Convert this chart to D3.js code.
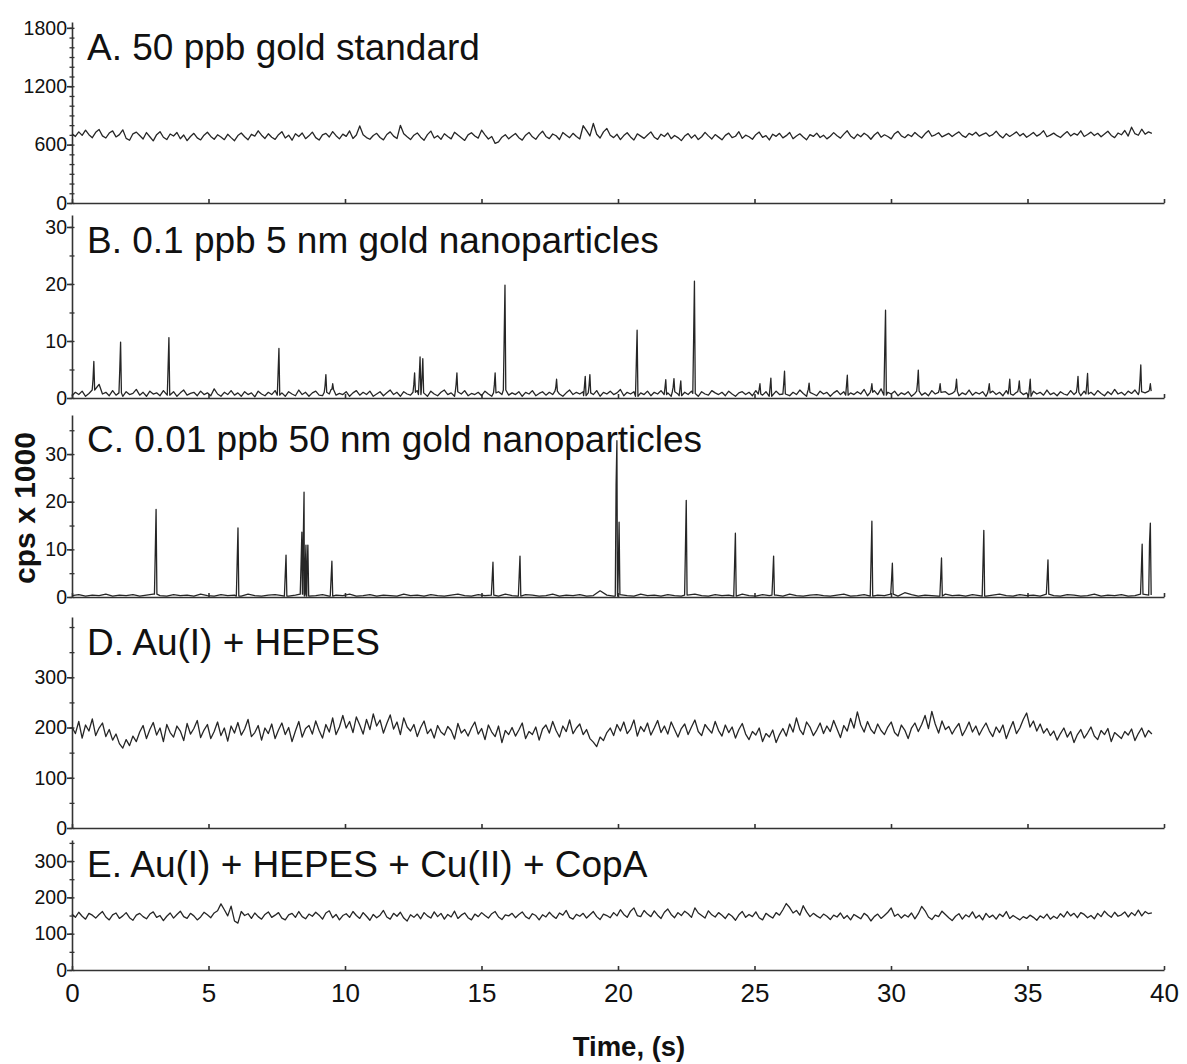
<!DOCTYPE html>
<html>
<head>
<meta charset="utf-8">
<script src="https://cdn.jsdelivr.net/npm/d3@7"></script>
<style>
  body { margin: 0; background: #fff; }
  .chart text { font-family: "Liberation Sans", Arial, Helvetica, sans-serif; }
</style>
</head>
<body>
<div class="chart"></div>
<script>
// ---- data ----
var panelTitles = [
    "A. 50 ppb gold standard",
    "B. 0.1 ppb 5 nm gold nanoparticles",
    "C. 0.01 ppb 50 nm gold nanoparticles",
    "D. Au(I) + HEPES",
    "E. Au(I) + HEPES + Cu(II) + CopA"
];

// y domain tops and tick labels
var yMaxValues = [1860, 32.1, 38.2, 420, 358];
var yMajorTicks = [[0, 600, 1200, 1800], [0, 10, 20, 30], [0, 10, 20, 30], [0, 100, 200, 300], [0, 100, 200, 300]];
var yMinorStep = [100, 5, 5, 50, 50];
var xTicks = [0, 5, 10, 15, 20, 25, 30, 35, 40];

// sampling interval of the traces (s)
var sampleStep = 0.124;
var cSampleStep = 0.248;

// A. gold standard, cps
var aValues = [
    712,684,731,695,748,702,671,726,755,690,
    668,719,741,679,703,752,664,645,711,728,
    693,657,724,681,639,702,733,676,652,709,
    688,725,660,699,641,683,716,669,648,697,
    727,684,655,701,679,651,706,672,640,693,
    719,681,650,706,688,742,697,663,711,676,
    654,702,733,668,697,645,712,683,719,661,
    690,728,672,647,701,716,678,734,692,659,
    708,685,741,663,698,792,701,672,655,694,
    716,673,649,704,731,687,662,798,711,680,
    652,697,720,676,645,703,739,668,691,654,
    712,684,659,727,698,671,643,700,722,689,
    667,748,701,658,683,613,629,676,702,659,
    688,714,671,646,697,725,680,655,703,738,
    684,662,709,691,652,724,697,671,716,683,
    658,794,743,689,817,706,668,731,765,697,
    672,706,651,693,722,679,648,711,687,664,
    699,731,676,654,707,683,719,661,694,672,
    641,688,713,667,700,652,681,726,690,658,
    703,677,649,695,718,671,686,733,664,697,
    681,655,702,729,674,693,648,707,685,716,
    669,692,724,660,689,711,678,650,703,684,
    718,673,697,659,686,723,691,667,708,742,
    689,662,706,681,717,694,655,699,728,676,
    701,683,659,712,736,689,671,704,683,725,
    694,668,711,743,686,701,722,679,697,715,
    683,709,731,692,674,716,698,727,688,705,
    721,686,703,738,695,669,712,684,706,731,
    690,714,676,699,725,687,708,742,681,697,
    718,692,673,706,734,689,715,698,742,683,
    704,728,693,716,681,709,737,694,672,719,
    701,745,688,779,712,696,758,707,731,716
];

// B. 5 nm particles, baseline (cps x 1000)
var bBaseValues = [
    0.4,1.0,0.6,1.2,0.3,0.8,1.4,0.6,2.4,0.7,
    1.0,0.4,1.3,0.5,0.9,0.3,1.1,0.6,0.8,1.5,
    0.5,1.0,0.3,1.2,0.7,0.9,0.4,1.3,0.6,0.5,
    1.1,0.3,0.9,1.4,0.5,0.8,1.0,0.4,1.2,0.6,
    0.9,0.4,1.6,0.7,0.3,1.0,0.6,1.3,0.5,0.9,
    0.3,1.1,0.6,0.9,0.2,1.2,0.7,0.4,1.0,0.6,
    1.3,0.5,0.9,0.3,1.1,0.7,0.4,1.4,0.6,1.0,
    0.3,0.9,1.2,0.5,0.4,1.0,0.7,1.5,0.5,0.8,
    0.6,1.1,0.3,0.9,1.3,0.5,1.0,0.6,1.2,0.3,
    0.7,1.1,0.4,0.9,1.4,0.6,1.0,0.3,1.1,0.7,
    0.5,1.0,1.3,0.6,0.9,0.3,1.2,0.7,0.4,1.0,
    1.4,0.6,0.9,0.3,1.1,0.7,1.3,0.4,0.8,0.6,
    1.0,0.4,1.2,0.7,0.3,0.9,1.1,0.6,1.4,0.5,
    0.9,0.6,1.1,0.3,1.0,0.7,1.3,0.4,0.8,1.1,
    0.5,1.0,0.6,1.2,0.7,0.3,0.9,1.4,0.6,1.0,
    0.7,1.1,0.4,0.9,0.6,1.3,0.3,1.0,0.7,1.2,
    0.6,0.9,1.5,0.4,1.0,0.7,1.1,0.3,0.9,0.6,
    1.2,0.4,1.0,0.7,1.3,0.6,0.9,0.3,1.1,0.7,
    0.4,1.0,0.6,1.2,0.8,0.3,1.1,0.7,0.5,1.3,
    0.9,0.6,1.0,0.4,1.2,0.7,0.3,0.9,1.1,0.6,
    1.0,0.4,1.3,0.7,0.5,1.1,0.3,0.9,1.2,0.6,
    0.7,1.1,0.4,1.0,0.6,1.4,0.8,0.3,1.0,0.7,
    0.4,1.2,0.7,1.0,0.3,0.9,1.3,0.6,1.1,0.5,
    0.9,0.6,1.1,0.7,1.5,0.4,1.0,1.3,0.6,1.6,
    0.5,1.0,0.7,1.2,0.4,0.9,0.6,1.1,0.3,0.8,
    1.2,0.5,0.9,0.4,1.3,0.7,1.0,0.3,1.1,0.6,
    0.8,1.2,0.4,0.9,0.6,1.4,0.5,1.0,0.7,1.1,
    0.3,0.9,1.2,0.6,1.0,0.4,1.3,0.7,0.5,1.0,
    1.1,0.6,0.9,0.3,1.2,0.7,1.0,0.5,1.4,0.6,
    0.9,0.4,1.1,0.7,0.5,1.3,0.6,1.0,0.4,1.2,
    0.7,1.0,0.5,1.3,0.8,0.4,1.1,0.6,1.5,0.7,
    1.0,0.5,1.2,0.8,1.4,0.6,1.1,0.9,1.6,1.2
];
var bSpikeTimes = [0.8,1.78,3.55,7.58,9.3,9.55,12.55,12.75,12.85,14.1,15.5,15.86,17.75,18.8,18.97,20.7,21.75,22.05,22.3,22.8,25.2,25.6,26.1,27.0,28.4,29.3,29.8,31.0,31.8,32.4,33.6,34.35,34.7,35.1,36.85,37.2,39.15,39.5];
var bSpikePeaks = [6.4,9.8,10.6,8.7,4.1,2.5,4.4,7.2,6.9,4.4,4.4,19.8,3.3,3.8,4.1,11.9,3.2,3.4,3.0,20.5,2.5,3.5,4.7,2.6,4.0,2.5,15.4,4.9,2.5,3.3,2.5,3.3,3.0,3.3,3.8,4.3,5.8,2.5];
var bSpikeShoulders = [3.3,5.0,5.4,4.5,2.2,1.5,2.3,3.8,3.6,2.4,2.3,10.3,1.8,2.0,2.2,6.0,1.8,1.9,1.7,10.4,1.5,1.9,2.5,1.5,2.2,1.5,8.1,2.6,1.5,1.8,1.5,1.8,1.7,1.8,2.0,2.3,3.1,1.5];

// C. 50 nm particles, baseline (cps x 1000)
var cBaseValues = [
    0.3,0.5,0.2,0.4,0.3,0.6,0.2,0.4,0.3,0.5,
    0.2,0.4,0.6,0.3,0.2,0.5,0.3,0.4,0.2,0.6,
    0.3,0.2,0.5,0.3,0.4,0.2,0.6,0.3,0.2,0.4,
    0.5,0.3,0.2,0.4,0.6,0.2,0.3,0.5,0.2,0.4,
    0.3,0.6,0.2,0.3,0.5,0.2,0.4,0.3,0.2,0.6,
    0.3,0.4,0.2,0.5,0.3,0.2,0.4,0.6,0.3,0.2,
    0.5,0.3,0.4,0.2,0.6,0.3,0.2,0.5,0.4,0.2,
    0.3,0.6,0.2,0.4,0.3,0.5,0.2,0.3,1.3,0.4,
    0.2,0.5,0.3,0.2,0.6,0.3,0.4,0.2,0.5,0.3,
    0.2,0.4,0.6,0.3,0.2,0.5,0.3,0.4,0.2,0.6,
    0.3,0.2,0.5,0.3,0.4,0.2,0.6,0.3,0.2,0.4,
    0.5,0.3,0.2,0.4,0.6,0.2,0.3,0.5,0.2,0.4,
    0.3,0.6,0.2,0.9,0.5,0.2,0.4,0.3,0.2,0.6,
    0.3,0.4,0.2,0.5,0.3,0.2,0.4,0.6,0.3,0.2,
    0.5,0.3,0.4,0.2,0.6,0.3,0.2,0.5,0.4,0.2,
    0.3,0.6,0.2,0.4,0.3,0.5,0.2,0.3,0.6,0.4
];
var cSpikeTimes = [3.08,6.08,7.84,8.42,8.5,8.57,8.64,9.52,15.42,16.41,19.96,20.04,22.5,24.3,25.7,29.3,30.05,31.85,33.4,35.75,39.2,39.5];
var cSpikePeaks = [18.4,14.5,8.8,13.6,22.0,10.9,10.9,7.5,7.3,8.6,32.8,15.7,20.3,13.4,8.6,15.9,7.1,8.2,14.0,7.8,11.1,15.5];
var cSpikeShoulders = [9.3,7.3,4.5,6.9,11.5,5.5,5.4,3.8,3.7,4.4,23.5,5.0,10.1,6.7,4.4,7.9,3.6,4.1,7.0,3.9,5.5,11.5];

// D. Au(I) + HEPES, cps
var dValues = [
    201,188,212,179,205,193,217,184,199,209,
    182,196,175,187,168,159,176,164,183,172,
    191,204,178,196,210,185,199,172,206,190,
    181,203,193,174,208,187,198,214,180,195,
    206,178,192,211,184,199,173,203,189,210,
    185,197,216,182,190,204,175,199,188,207,
    178,195,209,186,200,172,193,212,181,198,
    204,187,213,194,179,206,191,219,186,201,
    224,199,212,190,221,205,187,216,196,227,
    203,215,189,208,225,197,211,186,219,201,
    193,206,182,200,213,188,197,179,204,191,
    185,202,194,177,208,189,196,183,199,211,
    187,198,176,205,191,182,203,170,194,186,
    200,183,195,209,178,192,186,201,175,197,
    205,189,212,194,181,203,192,215,188,199,
    207,186,196,178,171,162,181,174,190,199,
    184,206,193,211,188,197,215,183,202,192,
    209,185,199,214,190,203,187,211,196,181,
    198,207,186,201,215,192,184,206,197,189,
    212,194,183,205,190,201,179,196,208,187,
    176,192,185,199,172,188,181,195,170,186,
    198,183,207,191,219,196,186,211,201,184,
    195,209,188,203,192,214,197,180,204,193,
    218,199,231,205,191,212,196,188,207,194,
    186,201,211,190,183,205,195,178,199,209,
    192,206,224,198,232,207,189,213,196,202,
    187,199,208,184,196,211,191,203,185,198,
    209,193,182,201,190,205,178,196,212,188,
    199,216,229,201,213,193,207,189,198,184,
    193,175,188,199,181,192,170,186,196,179,
    189,201,183,176,194,186,198,172,190,184,
    178,192,185,197,174,188,199,181,194,187
];

// E. Au(I) + HEPES + Cu(II) + CopA, cps
var eValues = [
    154,145,159,148,140,156,151,143,153,161,
    146,138,152,157,142,149,158,144,137,151,
    156,147,141,154,160,145,150,136,148,157,
    143,153,162,147,142,156,149,138,146,159,
    152,144,157,163,182,166,149,176,135,129,
    161,150,155,142,157,147,140,153,160,145,
    151,158,143,138,152,156,145,161,147,141,
    154,148,159,151,140,157,163,144,153,138,
    150,155,145,161,150,142,158,148,137,153,
    144,151,164,146,140,156,148,159,143,135,
    152,145,154,141,158,149,143,160,147,156,
    140,153,146,162,142,151,157,144,138,154,
    147,158,150,143,155,161,146,139,152,149,
    156,144,153,160,147,141,155,150,138,152,
    146,159,149,142,157,151,164,145,140,153,
    148,156,143,152,161,147,139,154,150,144,
    158,149,166,153,145,162,171,150,147,164,
    154,147,163,151,142,159,168,153,144,158,
    150,162,155,145,171,157,150,143,163,152,
    146,158,151,142,155,148,137,152,161,145,
    153,147,160,144,138,156,149,143,158,151,
    166,183,172,157,164,151,177,160,147,156,
    149,143,154,148,139,151,146,157,142,150,
    138,153,147,141,156,149,135,147,154,142,
    150,159,171,148,154,143,152,146,157,141,
    155,175,163,146,139,151,147,162,153,144,
    136,148,155,140,152,146,160,143,151,138,
    156,145,151,140,154,147,161,142,150,144,
    138,147,142,151,145,137,149,143,154,140,
    148,142,155,146,161,149,156,144,158,153,
    144,150,141,156,147,162,152,145,159,148,
    152,160,146,158,150,165,149,161,155,157
];

// ---- layout ----
var svgWidth = 1187;
var svgHeight = 1064;
var axisLeftX = 72;
var axisRightX = 1164;
var panelLayout = [
    { zero: 203, top: 22, titleY: 60 },
    { zero: 398, top: 215, titleY: 253 },
    { zero: 597, top: 415, titleY: 452 },
    { zero: 828, top: 617, titleY: 655 },
    { zero: 970, top: 840, titleY: 877 }
];

// turn plain traces into point lists
function plainSeries(values, step) {
    return values.map(function (v, i) { return { t: i * step, v: v }; });
}

// baseline trace plus narrow particle spikes
function spikeSeries(baseValues, step, spikeTimes, peaks, shoulders) {
    var pts = [];
    baseValues.forEach(function (v, i) {
        var t = i * step;
        var near = spikeTimes.some(function (s) { return Math.abs(s - t) < 0.07; });
        if (!near) pts.push({ t: t, v: v });
    });
    spikeTimes.forEach(function (s, i) {
        var k = Math.min(baseValues.length - 1, Math.round(s / step));
        var b = baseValues[k];
        pts.push({ t: s - 0.06, v: b });
        pts.push({ t: s - 0.03, v: shoulders[i] });
        pts.push({ t: s, v: peaks[i] });
        pts.push({ t: s + 0.03, v: b });
    });
    pts.sort(function (a, b) { return a.t - b.t; });
    return pts;
}

var seriesList = [
    plainSeries(aValues, sampleStep),
    spikeSeries(bBaseValues, sampleStep, bSpikeTimes, bSpikePeaks, bSpikeShoulders),
    spikeSeries(cBaseValues, cSampleStep, cSpikeTimes, cSpikePeaks, cSpikeShoulders),
    plainSeries(dValues, sampleStep),
    plainSeries(eValues, sampleStep)
];

var svg = d3.select(".chart")
    .append("svg")
    .attr("width", svgWidth)
    .attr("height", svgHeight);

var xScale = d3.scaleLinear().domain([0, 40]).range([axisLeftX, axisRightX]);

function styleAxis(g, fontSize) {
    g.attr("font-size", fontSize)
        .attr("font-family", "Liberation Sans, Arial, sans-serif");
    g.selectAll("path, line").attr("stroke", "#333").attr("stroke-width", 1.6);
    g.selectAll("text").attr("fill", "#111");
}

panelLayout.forEach(function (p, i) {
    var yScale = d3.scaleLinear().domain([0, yMaxValues[i]]).range([p.zero, p.top]);
    var panel = svg.append("g").attr("class", "panel");

    // panel title
    panel.append("text")
        .attr("x", 87)
        .attr("y", p.titleY)
        .attr("font-size", "37px")
        .attr("fill", "#111")
        .text(panelTitles[i]);

    // minor y ticks (crossing the axis)
    var minor = d3.range(0, yMaxValues[i], yMinorStep[i]);
    var minorAxis = panel.append("g")
        .attr("transform", "translate(" + (axisLeftX + 2.5) + ",0)")
        .call(d3.axisLeft(yScale).tickValues(minor).tickSize(5).tickFormat(""));
    minorAxis.select(".domain").remove();
    styleAxis(minorAxis, 10);
    minorAxis.selectAll("line").attr("stroke-width", 1.3);

    // y axis with labels
    var yAxisG = panel.append("g")
        .attr("transform", "translate(" + axisLeftX + ",0)")
        .call(d3.axisLeft(yScale)
            .tickValues(yMajorTicks[i])
            .tickFormat(function (d) { return d; })
            .tickSizeInner(5).tickSizeOuter(0).tickPadding(0));
    styleAxis(yAxisG, "19.5px");

    // x axis
    var xAxis = d3.axisBottom(xScale).tickValues(xTicks).tickSizeInner(-4).tickSizeOuter(0).tickPadding(14);
    if (i < 4) xAxis.tickFormat("");
    var xAxisG = panel.append("g")
        .attr("transform", "translate(0," + p.zero + ")")
        .call(xAxis);
    styleAxis(xAxisG, "26px");

    // trace
    var line = d3.line()
        .x(function (d) { return xScale(d.t); })
        .y(function (d) { return yScale(d.v); });

    panel.append("path")
        .datum(seriesList[i])
        .attr("d", line)
        .attr("fill", "none")
        .attr("stroke", "#262626")
        .attr("stroke-width", 1.3)
        .attr("stroke-linejoin", "round");
});

// axis titles
svg.append("text")
    .attr("transform", "translate(35,508) rotate(-90)")
    .attr("text-anchor", "middle")
    .attr("font-size", "30px")
    .attr("font-weight", "bold")
    .attr("fill", "#111")
    .text("cps x 1000");

svg.append("text")
    .attr("x", 629)
    .attr("y", 1056)
    .attr("text-anchor", "middle")
    .attr("font-size", "27.5px")
    .attr("font-weight", "bold")
    .attr("fill", "#111")
    .text("Time, (s)");
</script>
</body>
</html>
